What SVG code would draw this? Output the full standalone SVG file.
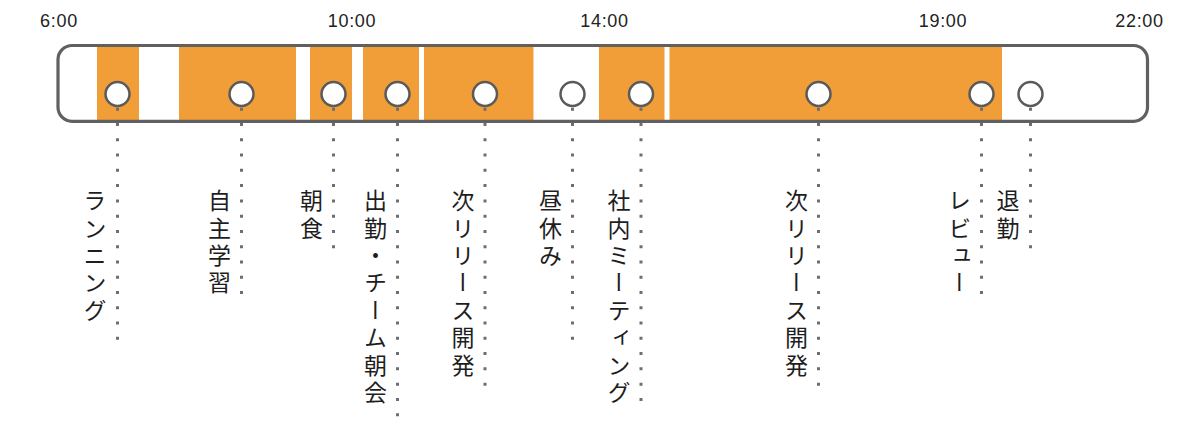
<svg xmlns="http://www.w3.org/2000/svg" width="1200" height="433" viewBox="0 0 1200 433">
<style>
.bg{fill:#ffffff}
.seg{fill:#F29E38}
.frame{fill:none;stroke:#606060;stroke-width:3.2}
.tick{font-family:"Liberation Sans",Arial,sans-serif;font-size:18px;letter-spacing:0.7px;fill:#222;text-anchor:middle}
.dot{fill:#fff;stroke:#5a5a5a;stroke-width:2.5}
.conn{stroke:#6e6e6e;stroke-width:3;stroke-dasharray:3 12.27;fill:none}
.lbl{font-family:"Noto Sans CJK JP","Noto Sans CJK SC",sans-serif;font-size:23px;fill:#1e1e1e;writing-mode:vertical-rl}
</style>
<rect width="1200" height="433" class="bg"/>
<g id="timescale">
<text class="tick" x="59" y="27.3">6:00</text>
<text class="tick" x="352" y="27.3">10:00</text>
<text class="tick" x="604.5" y="27.3">14:00</text>
<text class="tick" x="943" y="27.3">19:00</text>
<text class="tick" x="1139.5" y="27.3">22:00</text>
</g>
<g id="bar">
<rect x="58" y="45.5" width="1089.5" height="75.8" rx="14" class="bg"/>
<rect class="seg" x="97" y="46" width="42" height="75"/>
<rect class="seg" x="179" y="46" width="117" height="75"/>
<rect class="seg" x="310" y="46" width="42" height="75"/>
<rect class="seg" x="363" y="46" width="56" height="75"/>
<rect class="seg" x="424" y="46" width="109.5" height="75"/>
<rect class="seg" x="599" y="46" width="65.5" height="75"/>
<rect class="seg" x="669.5" y="46" width="332.5" height="75"/>
<rect x="58" y="45.5" width="1089.5" height="75.8" rx="14" class="frame"/>
</g>
<g id="connectors">
<line class="conn" x1="117.5" y1="92.5" x2="117.5" y2="341"/>
<line class="conn" x1="241.5" y1="92.5" x2="241.5" y2="295"/>
<line class="conn" x1="333.5" y1="92.5" x2="333.5" y2="249"/>
<line class="conn" x1="397.5" y1="92.5" x2="397.5" y2="417"/>
<line class="conn" x1="485" y1="92.5" x2="485" y2="386"/>
<line class="conn" x1="572.5" y1="92.5" x2="572.5" y2="341"/>
<line class="conn" x1="641" y1="92.5" x2="641" y2="402"/>
<line class="conn" x1="818.5" y1="92.5" x2="818.5" y2="386"/>
<line class="conn" x1="981.5" y1="92.5" x2="981.5" y2="295"/>
<line class="conn" x1="1030.5" y1="92.5" x2="1030.5" y2="249"/>
</g>
<g id="running"><circle class="dot" cx="117.5" cy="94" r="12"/><text class="lbl" x="95" y="189 216.4 243.8 271.2 298.6">ランニング</text></g>
<g id="self-study"><circle class="dot" cx="241.5" cy="94" r="12"/><text class="lbl" x="219.5" y="189 216.4 243.8 271.2">自主学習</text></g>
<g id="breakfast"><circle class="dot" cx="333.5" cy="94" r="12"/><text class="lbl" x="311.5" y="189 216.4">朝食</text></g>
<g id="commute-morning-meeting"><circle class="dot" cx="397.5" cy="94" r="12"/><text class="lbl" x="375.5" y="189 216.4 243.8 271.2 298.6 326 353.4 380.8">出勤・チーム朝会</text></g>
<g id="dev-1"><circle class="dot" cx="485" cy="94" r="12"/><text class="lbl" x="463" y="189 216.4 243.8 271.2 298.6 326 353.4">次リリース開発</text></g>
<g id="lunch"><circle class="dot" cx="572.5" cy="94" r="12"/><text class="lbl" x="550.5" y="189 216.4 243.8">昼休み</text></g>
<g id="internal-meeting"><circle class="dot" cx="641" cy="94" r="12"/><text class="lbl" x="619" y="189 216.4 243.8 271.2 298.6 326 353.4 380.8">社内ミーティング</text></g>
<g id="dev-2"><circle class="dot" cx="818.5" cy="94" r="12"/><text class="lbl" x="796.5" y="189 216.4 243.8 271.2 298.6 326 353.4">次リリース開発</text></g>
<g id="review"><circle class="dot" cx="981.5" cy="94" r="12"/><text class="lbl" x="959.5" y="189 216.4 243.8 271.2">レビュー</text></g>
<g id="leave"><circle class="dot" cx="1030.5" cy="94" r="12"/><text class="lbl" x="1008" y="189 216.4">退勤</text></g>
</svg>
